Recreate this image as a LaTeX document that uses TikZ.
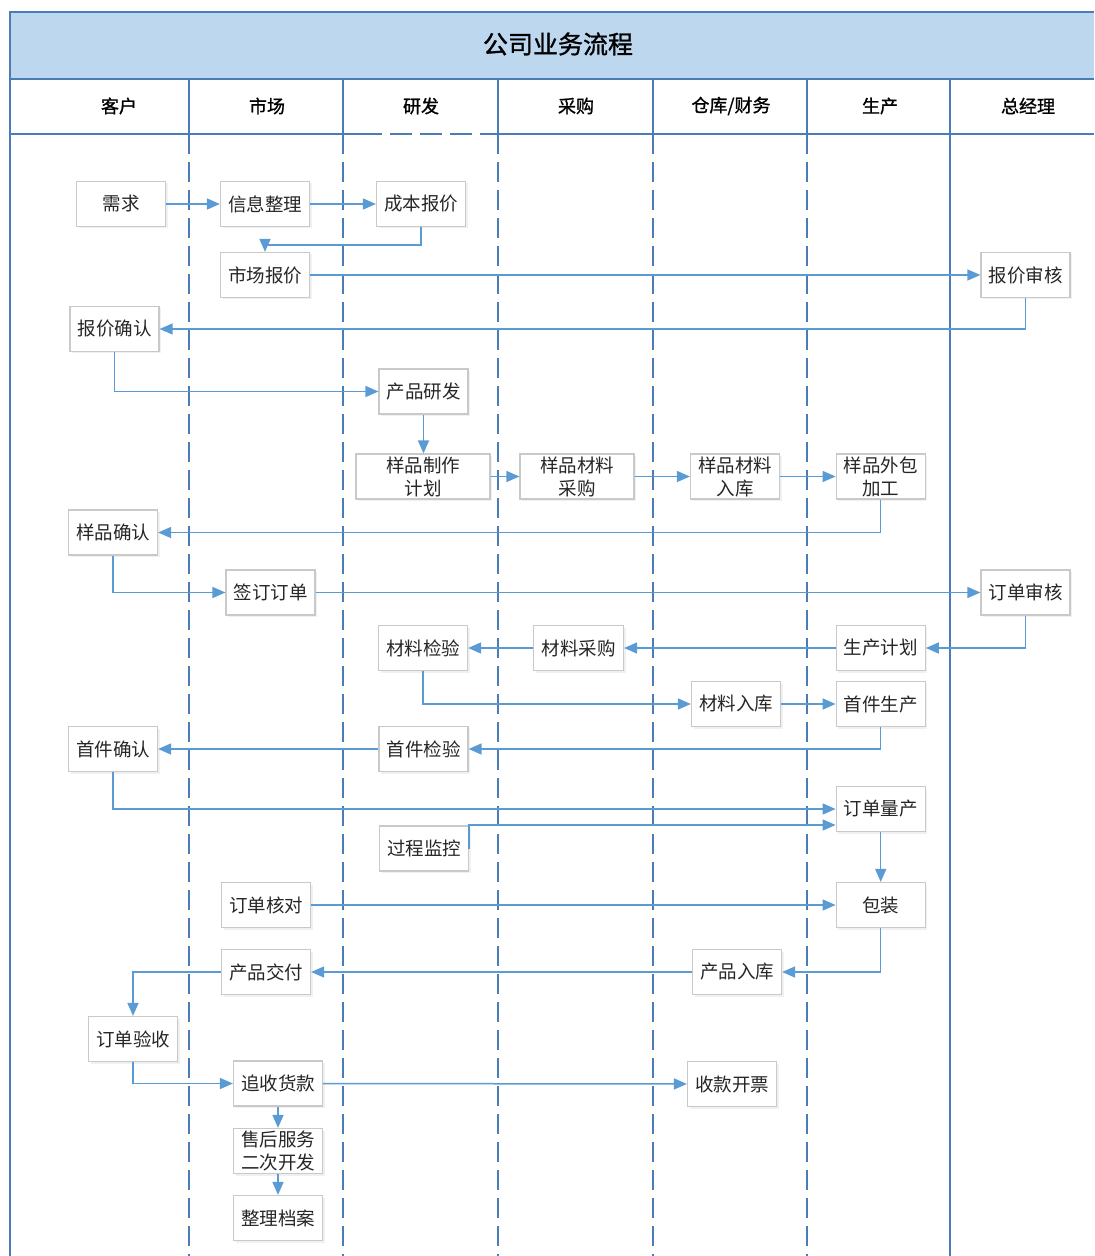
\documentclass[tikz,border=0pt]{standalone}
\usepackage{fontspec}
\setmainfont{Noto Sans CJK SC}
\newfontfamily\headfont{Noto Sans CJK SC}[FakeBold=1.2]
\usetikzlibrary{shapes, positioning, shadows, arrows.meta}
\definecolor{laneblue}{HTML}{4A7DB5}
\definecolor{flowblue}{HTML}{5B9BD5}
\definecolor{bandblue}{HTML}{BDD7EE}
\definecolor{boxgray}{HTML}{C9C9C9}

\begin{document}
\begin{tikzpicture}[x=0.5pt, y=-0.5pt,
    task/.style={rectangle, draw=boxgray, fill=white, line width=0.6pt,
        minimum width=44.5pt, minimum height=22.5pt, inner sep=0pt, align=center,
        text=black!85, font=\fontsize{9.25pt}{11.5pt}\selectfont,
        drop shadow={opacity=0.12, shadow xshift=1pt, shadow yshift=-1pt}},
    head/.style={font=\headfont\fontsize{9pt}{10pt}\selectfont, text=black},
    lane/.style={draw=laneblue, line width=0.6pt, dash pattern=on 10pt off 4pt},
    frame/.style={draw=laneblue, line width=0.75pt},
    flow/.style={draw=flowblue, line width=0.75pt, -{Triangle[length=6.5pt,width=5.5pt]}}
]
\useasboundingbox (0,0) rectangle (1094,1256);

% title band and lane headers
\fill[bandblue] (10,12) rectangle (1094,79);
\node (Title) at (558,44) [font=\headfont\fontsize{12.5pt}{14pt}\selectfont] {公司业务流程};
\draw[frame] (1094,12) -- (10,12) -- (10,1256);
\draw[frame] (10,79) -- (1094,79);
\draw[frame] (10,134) -- (360,134);
\draw[frame, dash pattern=on 11pt off 4pt] (360,134) -- (490,134);
\draw[frame] (490,134) -- (1094,134);
\foreach \x in {189,343,498,653,807,950}
    \draw[frame, line width=0.6pt] (\x,79) -- (\x,134);
\foreach \x/\t [count=\i] in {119/客户, 267/市场, 421/研发, 576/采购, 731/{仓库/财务}, 880/生产, 1028/总经理}
    \node (H\i) [head] at (\x,106) {\t};

% swim lanes
\foreach \x in {189,343,498,653,807}
    \draw[lane] (\x,134) -- (\x,1256);
\draw[frame, line width=0.6pt] (950,134) -- (950,1256);

% customer
\node (C01) [task] at (121,204) {需求};
\node (C02) [task] at (114.5,329) {报价确认};
\node (C03) [task] at (113,532.5) {样品确认};
\node (C04) [task] at (113,749) {首件确认};
\node (C05) [task] at (133,1039) {订单验收};

% market
\node (M01) [task] at (265,204) {信息整理};
\node (M02) [task] at (265,275) {市场报价};
\node (M03) [task] at (270.5,592.5) {签订订单};
\node (M04) [task] at (266,905) {订单核对};
\node (M05) [task] at (266,972) {产品交付};
\node (M06) [task] at (278,1083.5) {追收货款};
\node (M07) [task] at (278,1151) {售后服务\\二次开发};
\node (M08) [task] at (278,1218) {整理档案};

% research
\node (D01) [task] at (421,204) {成本报价};
\node (D02) [task] at (423.5,391.5) {产品研发};
\node (D03) [task, minimum width=67pt] at (423,476.5) {样品制作\\计划};
\node (D04) [task] at (423,648) {材料检验};
\node (D05) [task] at (423.5,749) {首件检验};
\node (D06) [task] at (424,848.5) {过程监控};

% purchase
\node (P01) [task, minimum width=57pt] at (577,476.5) {样品材料\\采购};
\node (P02) [task, minimum width=45pt] at (578.5,648) {材料采购};

% warehouse / finance
\node (W01) [task] at (735,476.5) {样品材料\\入库};
\node (W02) [task] at (736,704) {材料入库};
\node (W03) [task] at (737,972) {产品入库};
\node (W04) [task] at (732,1084) {收款开票};

% production
\node (F01) [task] at (880.7,476.5) {样品外包\\加工};
\node (F02) [task] at (880.7,648) {生产计划};
\node (F03) [task] at (880.7,704) {首件生产};
\node (F04) [task] at (880.7,809) {订单量产};
\node (F05) [task] at (880.7,905) {包装};

% general manager
\node (G01) [task] at (1025.5,275) {报价审核};
\node (G02) [task] at (1025.5,592.5) {订单审核};

% connectors
\draw[flow] (C01) -- (M01);
\draw[flow] (M01) -- (D01);
\draw[flow] (D01.south) -- ++(0,18) -| (M02.north);
\draw[flow] (M02) -- (G01);
\draw[flow] (G01.south) |- (C02.east);
\draw[flow] (C02.south) |- (D02.west);
\draw[flow] (D02.south) -- (D02.south |- D03.north);
\draw[flow] (D03) -- (P01);
\draw[flow] (P01) -- (W01);
\draw[flow] (W01) -- (F01);
\draw[flow] (F01.south) |- (C03.east);
\draw[flow] (C03.south) |- (M03.west);
\draw[flow] (M03) -- (G02);
\draw[flow] (G02.south) |- (F02.east);
\draw[flow] (F02) -- (P02);
\draw[flow] (P02) -- (D04);
\draw[flow] (D04.south) |- (W02.west);
\draw[flow] (W02) -- (F03);
\draw[flow] (F03.south) |- (D05.east);
\draw[flow] (D05) -- (C04);
\draw[flow] (C04.south) |- (F04.west);
\draw[flow] (D06.east) |- ([yshift=-8pt]F04.west);
\draw[flow] (F04) -- (F05);
\draw[flow] (M04) -- (F05);
\draw[flow] (F05.south) |- (W03.east);
\draw[flow] (W03) -- (M05);
\draw[flow] (M05.west) -| (C05.north);
\draw[flow] (C05.south) |- (M06.west);
\draw[flow] (M06) -- (W04);
\draw[flow] (M06) -- (M07);
\draw[flow] (M07) -- (M08);

\end{tikzpicture}
\end{document}
